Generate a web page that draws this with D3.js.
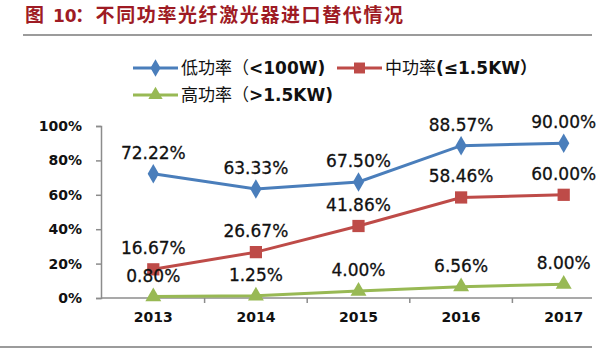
<!DOCTYPE html>
<html lang="zh">
<head>
<meta charset="UTF-8">
<title>不同功率光纤激光器进口替代情况</title>
<script src="https://d3js.org/d3.v7.min.js"></script>
<style>
    body { margin: 0; background: #fff; }
    svg text { font-family: "DejaVu Sans", "Noto Sans CJK SC", sans-serif; }
</style>
</head>
<body>
<div id="chart"></div>
<script>
    const years = ['2013', '2014', '2015', '2016', '2017'];
    const lowPower = [72.22, 63.33, 67.50, 88.57, 90.00];
    const midPower = [16.67, 26.67, 41.86, 58.46, 60.00];
    const highPower = [0.80, 1.25, 4.00, 6.56, 8.00];
    const yTicks = [0, 20, 40, 60, 80, 100];

    const series = [
        { cjk: '低功率（', latin: '<100W)', values: lowPower, color: '#4a7ebb', marker: d3.symbolDiamond },
        { cjk: '中功率', latin: '(≤1.5KW）', values: midPower, color: '#be4b48', marker: d3.symbolSquare },
        { cjk: '高功率（', latin: '>1.5KW)', values: highPower, color: '#98b954', marker: d3.symbolTriangle }
    ];

    const width = 600, height = 350;
    const svg = d3.select('#chart').append('svg')
        .attr('width', width)
        .attr('height', height);

    // title + rules
    const title = svg.append('text')
        .attr('y', 22)
        .attr('fill', '#9e1b24')
        .attr('font-size', 19)
        .attr('font-weight', 'bold')
        .style('font-family', '"Noto Sans CJK SC", sans-serif');
    title.append('tspan').attr('x', 25).text('图');
    title.append('tspan').attr('x', 53).style('font-family', '"DejaVu Sans", sans-serif').attr('font-size', 17).text('10');
    title.append('tspan').attr('x', 75).attr('letter-spacing', 1.6).text('：不同功率光纤激光器进口替代情况');
    svg.append('line')
        .attr('x1', 23).attr('x2', 592).attr('y1', 35).attr('y2', 35)
        .attr('stroke', '#7a7a7a').attr('stroke-width', 1.5);
    svg.append('line')
        .attr('x1', 0).attr('x2', 592).attr('y1', 347).attr('y2', 347)
        .attr('stroke', '#7a7a7a').attr('stroke-width', 1.5);

    const x = d3.scalePoint().domain(years).range([102, 615]).padding(0.5);
    const y = d3.scaleLinear().domain([0, 100]).range([298, 126]);

    // y axis
    const yAxis = svg.append('g')
        .attr('transform', 'translate(101,0)')
        .call(d3.axisLeft(y).tickValues(yTicks).tickFormat(d => d + '%').tickSize(5).tickPadding(14));
    yAxis.selectAll('path, line').attr('stroke', '#8c8c8c').attr('stroke-width', 1.5);
    yAxis.selectAll('text')
        .attr('font-size', 14).attr('font-weight', 'bold').attr('fill', '#111');

    // x axis: ticks sit between categories
    const step = x.step();
    const xg = svg.append('g').attr('transform', 'translate(0,298)');
    xg.append('line')
        .attr('x1', 101).attr('x2', 592)
        .attr('stroke', '#8c8c8c').attr('stroke-width', 1.5);
    xg.selectAll('.tick')
        .data(years.slice(1))
        .join('line')
        .attr('x1', d => x(d) - step / 2).attr('x2', d => x(d) - step / 2)
        .attr('y1', 0).attr('y2', 5)
        .attr('stroke', '#8c8c8c').attr('stroke-width', 1.5);
    xg.selectAll('.yr')
        .data(years)
        .join('text')
        .attr('x', d => x(d)).attr('y', 24)
        .attr('text-anchor', 'middle')
        .attr('font-size', 14).attr('font-weight', 'bold').attr('fill', '#111')
        .text(d => d);

    const line = d3.line()
        .x((d, i) => x(years[i]))
        .y(d => y(d));

    const markerSize = { 0: 110, 1: 150, 2: 110 };

    series.forEach((s, si) => {
        const g = svg.append('g');
        g.append('path')
            .datum(s.values)
            .attr('d', line)
            .attr('fill', 'none')
            .attr('stroke', s.color)
            .attr('stroke-width', 3);
        g.selectAll('path.pt')
            .data(s.values)
            .join('path')
            .attr('class', 'pt')
            .attr('transform', (d, i) => `translate(${x(years[i])},${y(d)})`)
            .attr('d', d3.symbol().type(s.marker).size(markerSize[si]))
            .attr('fill', s.color);
        g.selectAll('text')
            .data(s.values)
            .join('text')
            .attr('x', (d, i) => x(years[i]))
            .attr('y', d => y(d) - 15)
            .attr('text-anchor', 'middle')
            .attr('font-size', 17)
            .attr('fill', '#111')
            .attr('stroke', '#111').attr('stroke-width', 0.3)
            .text(d => d.toFixed(2) + '%');
    });

    // legend
    const legendPos = [[133, 68], [337, 68], [133, 95]];
    series.forEach((s, si) => {
        const [lx, ly] = legendPos[si];
        const lg = svg.append('g').attr('transform', `translate(${lx},${ly})`);
        lg.append('line')
            .attr('x1', 0).attr('x2', 45)
            .attr('stroke', s.color).attr('stroke-width', 3);
        lg.append('path')
            .attr('transform', 'translate(22.5,0)')
            .attr('d', d3.symbol().type(s.marker).size(markerSize[si] * 0.8))
            .attr('fill', s.color);
        const t = lg.append('text')
            .attr('x', 48).attr('y', 6)
            .attr('font-size', 17).attr('fill', '#111');
        t.append('tspan')
            .style('font-family', '"Noto Sans CJK SC", sans-serif')
            .text(s.cjk);
        t.append('tspan')
            .attr('font-weight', 'bold')
            .text(s.latin);
    });
</script>
</body>
</html>
